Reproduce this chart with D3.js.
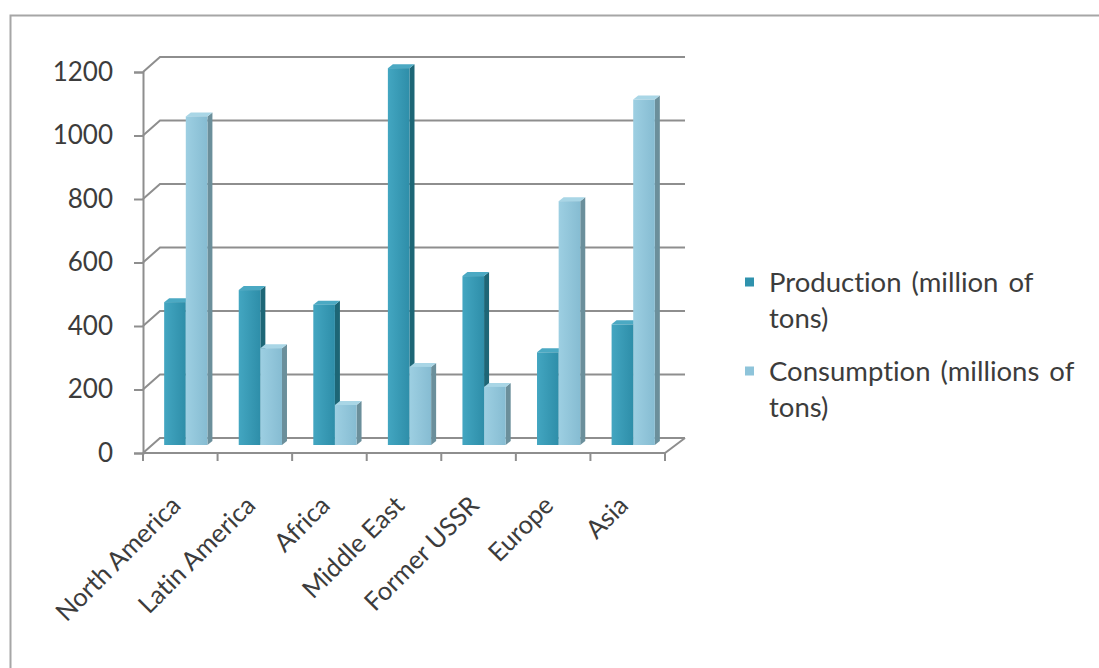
<!DOCTYPE html>
<html><head><meta charset="utf-8">
<script src="https://cdn.jsdelivr.net/npm/d3@7/dist/d3.min.js"></script>
<style>body{margin:0;background:#fff}svg{display:block}text{font-family:Lato,"Open Sans",sans-serif;fill:#3c3c3c;font-variant-ligatures:none;font-feature-settings:"liga" 0,"clig" 0}</style>
</head><body>
<svg id="c" width="1099" height="668"></svg>
<script>
const categories = ["North America","Latin America","Africa","Middle East","Former USSR","Europe","Asia"];
const production = [450, 488, 442, 1187, 532, 292, 380];
const consumption = [1035, 305, 126, 246, 183, 768, 1088];
const seriesNames = ["Production (million of|tons)", "Consumption (millions of|tons)"];
const yTicks = [0,200,400,600,800,1000,1200];

const svg = d3.select("#c");
svg.append("rect").attr("x",10.5).attr("y",15.5).attr("width",1200).attr("height",800)
  .attr("fill","none").attr("stroke","#a6a6a6").attr("stroke-width",2);

const x = d3.scaleBand().domain(categories).range([143,665]);
const y = d3.scaleLinear().domain([0,1200]).range([453,72]);
const back = {dx:17, dy:-15};
const mid = {dx:5.5, dy:-8};
const side = {dx:5, dy:-4};
const grid = "#8e8e8e";

const g = svg.append("g");
yTicks.forEach(t=>{
  const yf = y(t);
  g.append("path").attr("d",`M143,${yf} L${143+back.dx},${yf+back.dy} L${665+back.dx+3},${yf+back.dy}`)
   .attr("fill","none").attr("stroke",grid).attr("stroke-width",2);
});
g.append("path").attr("d",`M143,${y(0)} L665,${y(0)} L${665+back.dx+3},${y(0)+back.dy}`)
  .attr("fill","none").attr("stroke",grid).attr("stroke-width",2);

const yAxis = d3.axisLeft(y).tickValues(yTicks).tickSize(9).tickPadding(21).tickFormat(d3.format("d"));
const ya = svg.append("g").attr("transform","translate(143,0)").call(yAxis);
ya.select(".domain").attr("stroke",grid).attr("stroke-width",2);
ya.selectAll(".tick line").attr("stroke",grid).attr("stroke-width",2);
ya.selectAll(".tick text").attr("font-size",26).attr("font-family","Lato").attr("fill","#3c3c3c");

const bounds = categories.map(c=>x(c)).concat([x(categories[6])+x.bandwidth()]);
svg.append("g").selectAll("line").data(bounds).join("line")
  .attr("x1",d=>d).attr("x2",d=>d).attr("y1",y(0)).attr("y2",y(0)+8)
  .attr("stroke",grid).attr("stroke-width",2);

svg.append("g").selectAll("text").data(categories).join("text")
  .attr("transform",d=>`translate(${x(d)+x.bandwidth()/2+2},${y(0)+54}) rotate(-45)`)
  .attr("text-anchor","end").attr("font-size",25.5).text(d=>d);

const defs = svg.append("defs");
function grad(id, c1, c2){
  const lg = defs.append("linearGradient").attr("id",id).attr("x1","0").attr("x2","1").attr("y1","0").attr("y2","0");
  lg.append("stop").attr("offset","0").attr("stop-color",c1);
  lg.append("stop").attr("offset","1").attr("stop-color",c2);
}
grad("gp","#43a6c1","#2e8ea9");
grad("gc","#9dcfe2","#86bcd2");

const colors = [
  {front:"url(#gp)", side:"#1d6676", top:"#4ba9c3"},
  {front:"url(#gc)", side:"#6b8f9b", top:"#a9d6e6"}
];
const bw = x.bandwidth()*0.29;
const bars = svg.append("g");
categories.forEach((c,i)=>{
  [production[i], consumption[i]].forEach((v,s)=>{
    const cx = x(c)+x.bandwidth()/2 + mid.dx;
    const x0 = cx - bw + s*bw;
    const x1 = x0 + bw;
    const yb = y(0)+mid.dy, yt = y(v)+mid.dy;
    const col = colors[s];
    bars.append("path").attr("d",`M${x1},${yb} L${x1+side.dx},${yb+side.dy} L${x1+side.dx},${yt+side.dy} L${x1},${yt} Z`).attr("fill",col.side);
    bars.append("path").attr("d",`M${x0},${yt} L${x0+side.dx},${yt+side.dy} L${x1+side.dx},${yt+side.dy} L${x1},${yt} Z`).attr("fill",col.top);
    bars.append("rect").attr("x",x0).attr("y",yt).attr("width",bw).attr("height",yb-yt).attr("fill",col.front);
  });
});

const legColors = ["#2f92ad","#8ec4da"];
const lg = svg.append("g");
const legY = [282, 371];
seriesNames.forEach((n,i)=>{
  const ly = legY[i];
  lg.append("rect").attr("x",745).attr("y",ly-4.5).attr("width",9).attr("height",9).attr("fill",legColors[i]);
  n.split("|").forEach((line,k)=>{
    lg.append("text").attr("x",769).attr("y",ly+10+k*36).attr("font-size",27.5).attr("word-spacing",3).text(line);
  });
});
</script>
</body></html>
